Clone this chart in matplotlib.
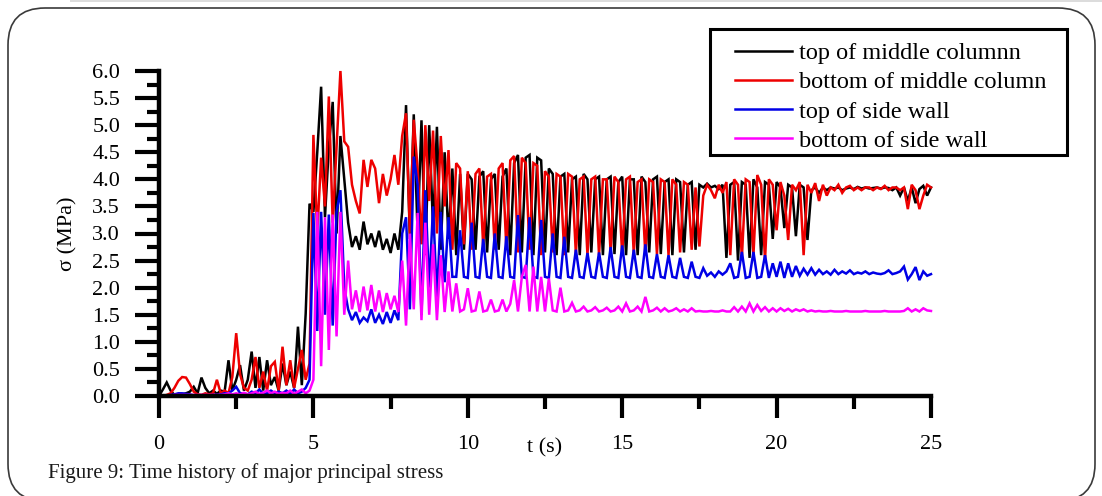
import numpy as np
import matplotlib
matplotlib.use("Agg")
import matplotlib.pyplot as plt
from matplotlib.patches import FancyBboxPatch, Rectangle
from matplotlib.lines import Line2D
from matplotlib.ticker import MultipleLocator, FormatStrFormatter

plt.rcParams['font.family'] = ['Liberation Serif', 'DejaVu Serif']

# ---------------- data ----------------
series_labels = ["top of middle columnn", "bottom of middle column",
                 "top of side wall", "bottom of side wall"]
series_colors = ["#000000", "#ee0000", "#0000e6", "#ff00ff"]

sample_step = 0.125          # s, sampling interval of the read-off values
n_samples = 201
time_s = np.arange(n_samples) * sample_step

top_middle_column = [
    0.00, 0.12, 0.25, 0.10, 0.02, 0.02, 0.03, 0.05,
    0.08, 0.17, 0.05, 0.34, 0.15, 0.05, 0.10, 0.04,
    0.10, 0.08, 0.66, 0.10, 0.30, 0.57, 0.10, 0.30,
    0.82, 0.15, 0.72, 0.10, 0.66, 0.20, 0.35, 0.10,
    0.60, 0.20, 0.45, 0.15, 1.28, 0.20, 1.52, 3.55,
    3.40, 4.50, 5.71, 3.30, 4.60, 5.43, 3.00, 4.80,
    4.00, 3.20, 2.75, 2.95, 2.70, 3.22, 2.80, 3.00,
    2.75, 3.05, 2.70, 2.90, 2.64, 3.00, 2.70, 3.40,
    5.37, 2.90, 5.20, 3.00, 5.09, 2.60, 5.00, 3.10,
    4.97, 2.70, 4.50, 2.90, 4.20, 2.60, 4.10, 2.70,
    4.10, 4.00, 2.70, 4.05, 4.15, 2.65, 4.00, 4.10,
    2.70, 4.05, 4.20, 2.60, 4.30, 4.45, 2.65, 4.40,
    4.45, 2.60, 4.40, 4.35, 2.65, 4.20, 4.10, 2.60,
    4.05, 4.10, 2.65, 4.00, 4.05, 2.60, 4.10, 4.00,
    2.65, 4.00, 4.05, 2.60, 4.00, 4.05, 2.62, 3.95,
    4.05, 2.60, 4.00, 4.00, 2.60, 4.05, 3.95, 2.65,
    4.00, 4.05, 2.62, 3.95, 4.00, 2.60, 4.00, 3.95,
    2.65, 3.90, 3.95, 2.70, 3.90, 3.85, 3.92, 3.85,
    3.88, 3.82, 3.90, 2.55, 3.90, 3.95, 2.50, 3.95,
    3.90, 2.55, 4.00, 3.85, 2.60, 3.95, 3.90, 2.90,
    3.95, 3.85, 3.10, 3.90, 3.85, 2.95, 3.90, 3.85,
    2.88, 3.80, 3.85, 3.75, 3.85, 3.80, 3.85, 3.83,
    3.85, 3.80, 3.83, 3.85, 3.82, 3.86, 3.83, 3.85,
    3.83, 3.84, 3.85, 3.83, 3.85, 3.84, 3.80, 3.85,
    3.70, 3.85, 3.60, 3.85, 3.56, 3.82, 3.88, 3.70,
    3.85]

bottom_middle_column = [
    0.00, 0.00, 0.02, 0.05, 0.15, 0.28, 0.35, 0.34,
    0.22, 0.08, 0.03, 0.02, 0.05, 0.03, 0.05, 0.30,
    0.05, 0.10, 0.05, 0.35, 1.16, 0.40, 0.15, 0.10,
    0.30, 0.72, 0.15, 0.45, 0.10, 0.55, 0.63, 0.10,
    0.91, 0.20, 0.66, 0.15, 0.50, 0.85, 0.30, 0.60,
    4.82, 3.00, 4.40, 3.50, 5.53, 3.20, 4.60, 6.00,
    4.70, 4.60, 3.90, 3.60, 3.37, 4.36, 3.86, 4.36,
    4.20, 3.56, 4.10, 3.70, 4.00, 4.45, 3.90, 4.80,
    5.22, 3.00, 5.10, 4.20, 2.80, 5.00, 3.60, 4.90,
    3.00, 4.80, 3.50, 4.54, 2.70, 4.30, 4.20, 2.80,
    4.15, 2.70, 4.10, 4.20, 2.75, 4.05, 4.10, 2.70,
    4.20, 4.30, 2.70, 4.35, 4.43, 2.65, 4.40, 4.30,
    2.70, 4.30, 4.25, 2.60, 4.15, 4.05, 2.65, 4.10,
    4.05, 2.60, 4.10, 4.05, 2.62, 4.00, 4.05, 2.60,
    4.00, 4.05, 2.60, 4.00, 4.00, 2.65, 4.05, 3.95,
    2.60, 4.00, 4.05, 2.62, 3.95, 4.00, 2.60, 4.00,
    3.95, 2.62, 4.00, 3.95, 2.60, 4.00, 3.90, 2.65,
    3.95, 3.90, 2.70, 3.85, 2.76, 3.70, 3.90, 3.80,
    3.65, 3.90, 3.75, 3.95, 2.60, 4.00, 3.90, 2.55,
    4.00, 3.95, 2.60, 4.08, 3.90, 2.51, 4.00, 3.90,
    3.06, 3.95, 3.70, 2.88, 3.90, 3.80, 3.95, 2.60,
    3.90, 3.75, 3.93, 3.60, 3.90, 3.70, 3.85, 3.80,
    3.90, 3.75, 3.85, 3.88, 3.80, 3.85, 3.80, 3.85,
    3.85, 3.80, 3.85, 3.82, 3.88, 3.80, 3.85, 3.85,
    3.80, 3.85, 3.45, 3.90, 3.80, 3.45, 3.70, 3.90,
    3.85]

top_side_wall = [
    0.00, 0.00, 0.00, 0.02, 0.03, 0.05, 0.05, 0.04,
    0.03, 0.01, 0.00, 0.00, 0.00, 0.01, 0.02, 0.02,
    0.03, 0.05, 0.05, 0.10, 0.17, 0.05, 0.05, 0.03,
    0.08, 0.05, 0.12, 0.04, 0.05, 0.10, 0.05, 0.08,
    0.05, 0.10, 0.04, 0.12, 0.05, 0.08, 0.15, 0.30,
    3.38, 1.20, 3.40, 1.50, 3.35, 1.30, 3.40, 3.80,
    2.00, 1.60, 1.40, 1.55, 1.35, 1.45, 1.38, 1.60,
    1.35, 1.50, 1.33, 1.55, 1.35, 1.58, 1.40, 3.00,
    3.30, 1.60, 4.42, 3.90, 1.50, 3.80, 2.00, 3.50,
    1.80, 3.40, 2.10, 3.30, 2.20, 2.20, 3.06, 2.20,
    2.18, 3.20, 2.20, 2.18, 2.90, 2.20, 2.18, 3.00,
    2.20, 2.18, 2.95, 2.20, 2.18, 3.34, 2.20, 2.18,
    3.30, 2.20, 2.18, 3.25, 2.20, 2.18, 3.00, 2.20,
    2.18, 2.94, 2.20, 2.18, 2.70, 2.20, 2.18, 2.64,
    2.20, 2.18, 2.65, 2.20, 2.18, 2.75, 2.20, 2.18,
    2.78, 2.20, 2.18, 2.70, 2.20, 2.18, 2.80, 2.20,
    2.18, 2.62, 2.20, 2.18, 2.60, 2.20, 2.18, 2.55,
    2.20, 2.18, 2.48, 2.20, 2.18, 2.36, 2.22, 2.28,
    2.20, 2.30, 2.24, 2.30, 2.45, 2.18, 2.20, 2.66,
    2.18, 2.20, 2.66, 2.18, 2.20, 2.60, 2.18, 2.45,
    2.20, 2.48, 2.18, 2.45, 2.20, 2.40, 2.22, 2.35,
    2.24, 2.36, 2.24, 2.33, 2.25, 2.30, 2.24, 2.33,
    2.25, 2.30, 2.26, 2.32, 2.25, 2.28, 2.26, 2.30,
    2.25, 2.28, 2.26, 2.25, 2.27, 2.32, 2.25, 2.27,
    2.30, 2.39, 2.15, 2.25, 2.38, 2.14, 2.30, 2.22,
    2.25]

bottom_side_wall = [
    0.00, 0.00, 0.01, 0.01, 0.02, 0.02, 0.02, 0.02,
    0.02, 0.02, 0.02, 0.02, 0.02, 0.02, 0.02, 0.02,
    0.02, 0.03, 0.05, 0.03, 0.05, 0.03, 0.06, 0.03,
    0.05, 0.08, 0.04, 0.06, 0.10, 0.05, 0.08, 0.04,
    0.06, 0.05, 0.10, 0.04, 0.08, 0.12, 0.05, 0.10,
    0.30, 3.40, 0.55, 3.30, 0.85, 3.35, 1.10, 3.40,
    1.50, 2.50, 1.60, 1.95, 1.55, 2.02, 1.58, 2.05,
    1.56, 1.95, 1.55, 1.90, 1.60, 1.85, 1.55, 2.50,
    1.30, 3.00, 1.60, 3.38, 1.40, 3.20, 1.50, 2.80,
    1.40, 2.60, 1.55, 2.30, 1.56, 2.08, 1.56, 1.60,
    1.99, 1.56, 1.58, 1.93, 1.56, 1.58, 1.78, 1.56,
    1.58, 1.78, 1.56, 1.70, 2.14, 1.56, 2.20, 2.42,
    1.56, 2.39, 1.56, 2.20, 1.56, 2.17, 1.58, 1.56,
    2.00, 1.56, 1.58, 1.72, 1.56, 1.58, 1.65, 1.56,
    1.58, 1.64, 1.56, 1.58, 1.63, 1.56, 1.58, 1.65,
    1.56, 1.71, 1.56, 1.58, 1.65, 1.56, 1.83, 1.56,
    1.58, 1.63, 1.56, 1.62, 1.56, 1.58, 1.62, 1.56,
    1.60, 1.56, 1.62, 1.56, 1.57, 1.56, 1.56, 1.57,
    1.56, 1.56, 1.58, 1.56, 1.56, 1.64, 1.56, 1.65,
    1.56, 1.71, 1.56, 1.68, 1.57, 1.64, 1.56, 1.62,
    1.56, 1.62, 1.57, 1.61, 1.56, 1.60, 1.57, 1.60,
    1.56, 1.58, 1.56, 1.57, 1.56, 1.56, 1.57, 1.56,
    1.56, 1.56, 1.57, 1.56, 1.56, 1.56, 1.56, 1.57,
    1.56, 1.56, 1.56, 1.56, 1.57, 1.56, 1.56, 1.56,
    1.56, 1.57, 1.62, 1.56, 1.60, 1.56, 1.62, 1.58,
    1.57]

x_ticks = [0, 5, 10, 15, 20, 25]
y_ticks = [0.0, 0.5, 1.0, 1.5, 2.0, 2.5, 3.0, 3.5, 4.0, 4.5, 5.0, 5.5, 6.0]
x_label = "t (s)"
y_label = "σ (MPa)"
caption = "Figure 9: Time history of major principal stress"

# ---------------- figure ----------------
W, H = 1102, 496
fig = plt.figure(figsize=(W / 100, H / 100), dpi=100)
fig.patch.set_facecolor("white")

# page decorations: grey rule on top and rounded frame
fig.add_artist(Rectangle((70, H - 2), W - 70, 2, transform=None,
                         facecolor="#dcdcdc", edgecolor="none"))
fig.add_artist(FancyBboxPatch((8, -5), 1087, H - 8 + 5,
                              boxstyle="round,pad=0,rounding_size=37",
                              transform=None, fill=False,
                              edgecolor="#3a3a3a", linewidth=1.2))

ax_left, ax_right, ax_top, ax_bottom = 159, 931, 71, 396
ax = fig.add_axes([ax_left / W, (H - ax_bottom) / H,
                   (ax_right - ax_left) / W, (ax_bottom - ax_top) / H])

all_series = [top_middle_column, bottom_middle_column, top_side_wall, bottom_side_wall]
for vals, col, lab in zip(all_series, series_colors, series_labels):
    ax.plot(time_s, vals, color=col, lw=1.8, label=lab, clip_on=False,
            solid_joinstyle="miter")

ax.set_xlim(0, 25)
ax.set_ylim(0, 6)
ax.set_xticks(x_ticks)
ax.set_yticks(y_ticks)
ax.xaxis.set_minor_locator(MultipleLocator(2.5))
ax.yaxis.set_minor_locator(MultipleLocator(0.25))
ax.yaxis.set_major_formatter(FormatStrFormatter("%.1f"))

for s in ["top", "right"]:
    ax.spines[s].set_visible(False)
for s in ["left", "bottom"]:
    ax.spines[s].set_linewidth(3.2)
    ax.spines[s].set_zorder(5)

ax.tick_params(axis="y", which="major", direction="out", length=17, width=3,
               pad=11, labelsize=16, colors="black")
ax.tick_params(axis="y", which="minor", direction="out", length=9, width=3)
ax.tick_params(axis="x", which="major", direction="out", length=16, width=3,
               pad=12, labelsize=16, colors="black")
ax.tick_params(axis="x", which="minor", direction="out", length=9, width=3)

ax.set_xlabel(x_label, fontsize=16)
ax.xaxis.set_label_coords(0.5, -0.13)
ax.set_ylabel(y_label, fontsize=16)
ax.yaxis.set_label_coords(-0.105, 0.5)

# legend (frame drawn separately so its size matches the reference)
fig.add_artist(Rectangle((710 / W, (H - 155) / H), 357 / W, 126 / H,
                         transform=fig.transFigure, fill=False,
                         edgecolor="black", linewidth=2.2))
handles = [Line2D([], [], color=c, lw=1.8) for c in series_colors]
fig.legend(handles, series_labels, loc="upper left",
           bbox_to_anchor=(735 / W, (H - 42) / H), frameon=False,
           fontsize=17.5, handlelength=2.35, handletextpad=0.28,
           borderpad=0, borderaxespad=0, labelspacing=0.3)

fig.text(48 / W, (H - 473) / H, caption, fontsize=15, va="center",
         color="#1a1a1a")

fig.savefig("out.png", dpi=100)
